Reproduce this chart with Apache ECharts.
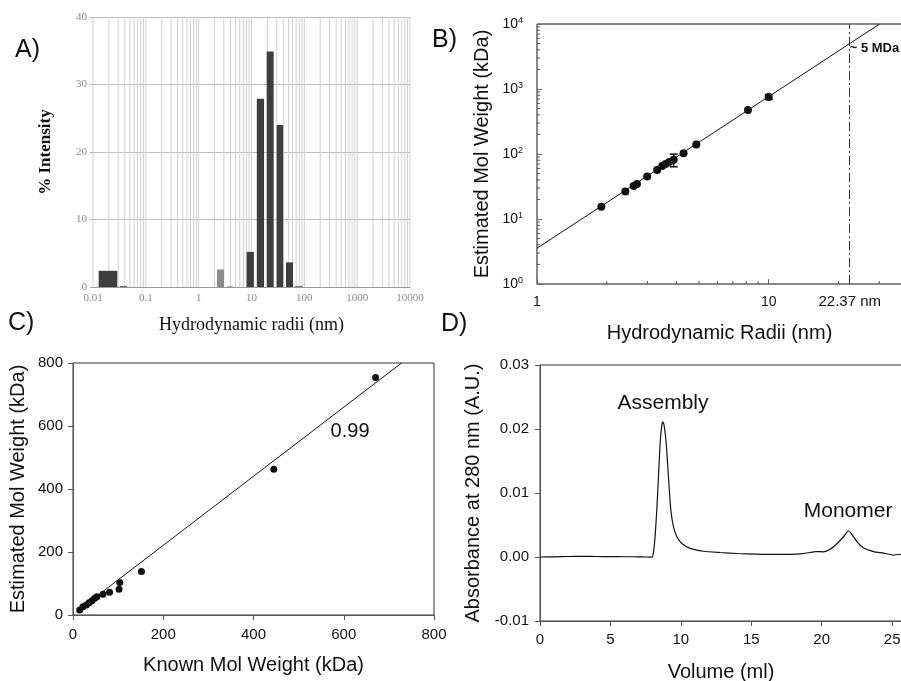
<!DOCTYPE html>
<html>
<head>
<meta charset="utf-8">
<script src="https://cdn.jsdelivr.net/npm/echarts@6/dist/echarts.min.js"></script>
<style>
  html, body { margin: 0; padding: 0; background: #fff; }
  #chart { width: 901px; height: 681px; }
</style>
</head>
<body>
<div id="chart"></div>
<script>
// A) intensity distribution (bins on a log radius axis)
const A_BIN_LO = [0.0128, 0.032, 2.22, 3.4, 8.1, 12.6, 19.4, 30, 45, 66.5];
const A_BIN_HI = [0.0288, 0.044, 3.02, 4.5, 11.1, 17.3, 26.3, 39.8, 61, 93];
const A_INTENSITY = [2.4, 0.12, 2.6, 0.06, 5.2, 27.9, 34.9, 24.0, 3.65, 0.1];

// B) radius vs estimated mol weight, log-log
const B_RADII = [1.895, 2.405, 2.61, 2.70, 2.99, 3.30, 3.47, 3.59, 3.72, 3.89, 4.29, 4.87, 8.14, 10.0];
const B_MW = [15.4, 26.4, 32.3, 34.7, 45, 56.5, 65.1, 69.9, 75, 81.5, 103, 140, 475, 753];
const B_ERR_X = [3.89, 10.0];
const B_ERR_LO = [63.5, 690];
const B_ERR_HI = [99.6, 820];
const B_FIT_X = [1, 30.1];
const B_FIT_Y = [3.55, 10000];
const B_CUT_R = 22.37;
const B_CUT_MW = 5000;

// C) known vs estimated mol weight
const C_KNOWN = [14.9, 22, 29.6, 35.6, 42, 48, 53, 66.5, 81, 102, 103.5, 151.7, 445, 670.6];
const C_EST = [15.9, 26, 31.8, 39, 45, 53, 58, 66, 72, 82, 103, 138, 463, 754];
const C_FIT_X = [8, 728];
const C_FIT_Y = [10.8, 800];

// D) elution profile
const D_VOL = [0, 1, 2, 3, 4, 5, 6, 7, 7.6, 7.94, 8.05, 8.17, 8.29, 8.41, 8.53, 8.65, 8.72, 8.81, 8.96,
  9.12, 9.29, 9.48, 9.71, 10.07, 10.66, 11.6, 12.8, 14, 15.4, 16.5, 17.77, 18.5, 19.2, 19.55, 20.14,
  20.6, 21.09, 21.56, 21.91, 22.15, 22.5, 22.98, 23.69, 24.4, 25.1, 25.7];
const D_ABS = [0.0000, 0.00002, 0.00008, 0.0001, 0.00008, 0.00005, 0.00004, 0.00003, 0.0000, -0.00003,
  0.0006, 0.0032, 0.0073, 0.0125, 0.0178, 0.0206, 0.0211, 0.0206, 0.0178, 0.0125, 0.0073, 0.0047,
  0.0032, 0.0021, 0.00135, 0.0009, 0.0007, 0.00055, 0.00045, 0.0004, 0.00042, 0.0005, 0.0007,
  0.00085, 0.0008, 0.0012, 0.0021, 0.0032, 0.0041, 0.0035, 0.0024, 0.0014, 0.00085, 0.0006,
  0.0003, 0.00045];

const SANS = "'Liberation Sans', Arial, sans-serif";
const SERIF = "'Liberation Serif', 'Times New Roman', serif";
const INK = '#111';

function decadeMinors(fromExp, toExp, withMajor) {
  const out = [];
  for (let e = fromExp; e <= toExp; e++) {
    for (let m = withMajor ? 1 : 2; m <= 9; m++) out.push(+(m * Math.pow(10, e)).toPrecision(3));
  }
  return out;
}

const zip = (a, b) => a.map((v, i) => [v, b[i]]);

// vertical grid lines for A
const aGridX = decadeMinors(-2, 3, true).concat([10000]);
// minor ticks for B
const bMinorX = decadeMinors(0, 1, false).filter((v) => v < 37);
const bMinorY = decadeMinors(0, 3, false);

const chart = echarts.init(document.getElementById('chart'));

const option = {
  animation: false,
  backgroundColor: '#fff',
  textStyle: { fontFamily: SANS },
  grid: [
    { left: 93, top: 17, width: 317, height: 270, outerBoundsMode: 'none' },
    { left: 537, top: 24, right: -1, height: 260, outerBoundsMode: 'none', show: true, borderColor: '#111', borderWidth: 1 },
    { left: 73, top: 363, width: 361, height: 252, outerBoundsMode: 'none', show: true, borderColor: '#333', borderWidth: 1 },
    { left: 540, top: 365, right: -1, height: 256, outerBoundsMode: 'none', show: true, borderColor: '#333', borderWidth: 1 },
  ],
  xAxis: [
    {
      gridIndex: 0, type: 'log', logBase: 10, min: 0.01, max: 10000,
      name: 'Hydrodynamic radii (nm)', nameLocation: 'middle', nameGap: 29,
      nameTextStyle: { fontFamily: SERIF, fontSize: 18, color: INK },
      axisLine: { lineStyle: { color: '#999' } },
      axisTick: { show: false },
      splitLine: { show: false },
      axisLabel: { fontFamily: SERIF, fontSize: 11, color: '#8a8a8a', margin: 6,
        formatter: (v) => String(+(+v).toPrecision(3)) },
    },
    {
      gridIndex: 1, type: 'log', logBase: 10, min: 1, max: 37.6,
      name: 'Hydrodynamic Radii (nm)', nameLocation: 'middle', nameGap: 39,
      nameTextStyle: { fontSize: 20, color: INK },
      axisLine: { lineStyle: { color: '#888' } },
      axisTick: { inside: true, length: 5, lineStyle: { color: '#666' } },
      splitLine: { show: false },
      axisLabel: { fontSize: 14, color: INK, margin: 11,
        formatter: (v) => (Math.abs(v - 1) < 1e-6 ? '1' : Math.abs(v - 10) < 1e-6 ? '10' : '') },
    },
    {
      gridIndex: 2, type: 'value', min: 0, max: 800, interval: 200,
      name: 'Known Mol Weight (kDa)', nameLocation: 'middle', nameGap: 40,
      nameTextStyle: { fontSize: 20, color: INK },
      axisLine: { lineStyle: { color: '#555' } },
      axisTick: { length: 5, lineStyle: { color: '#555' } },
      splitLine: { show: false },
      axisLabel: { fontSize: 15, color: INK, margin: 12 },
    },
    {
      gridIndex: 3, type: 'value', min: 0, max: 25.7, interval: 5,
      name: 'Volume (ml)', nameLocation: 'middle', nameGap: 41,
      nameTextStyle: { fontSize: 20, color: INK },
      axisLine: { onZero: false, lineStyle: { color: '#555' } },
      axisTick: { length: 5, lineStyle: { color: '#555' } },
      splitLine: { show: false },
      axisLabel: { fontSize: 15, color: INK, margin: 11,
        formatter: (v) => (v % 5 === 0 ? String(v) : '') },
    },
  ],
  yAxis: [
    {
      gridIndex: 0, type: 'value', min: 0, max: 40, interval: 10,
      name: '% Intensity', nameLocation: 'middle', nameGap: 39,
      nameTextStyle: { fontFamily: SERIF, fontSize: 17, fontWeight: 'bold', color: INK },
      axisLine: { show: false },
      axisTick: { show: true, length: 3, lineStyle: { color: '#aaa' } },
      splitLine: { lineStyle: { color: '#bdbdbd' } },
      axisLabel: { fontFamily: SERIF, fontSize: 11, color: '#8a8a8a', margin: 6 },
    },
    {
      gridIndex: 1, type: 'log', logBase: 10, min: 1, max: 10000,
      name: 'Estimated Mol Weight (kDa)', nameLocation: 'middle', nameGap: 45,
      nameTextStyle: { fontSize: 20, color: INK },
      axisLine: { lineStyle: { color: '#888' } },
      axisTick: { inside: true, length: 5, lineStyle: { color: '#666' } },
      splitLine: { show: false },
      axisLabel: {
        margin: 14, color: INK,
        formatter: (v) => '{b|10}{s|' + Math.round(Math.log10(v)) + '}',
        rich: {
          b: { fontSize: 14, color: INK, lineHeight: 16 },
          s: { fontSize: 9, color: INK, verticalAlign: 'top', lineHeight: 10 },
        },
      },
    },
    {
      gridIndex: 2, type: 'value', min: 0, max: 800, interval: 200,
      name: 'Estimated Mol Weight (kDa)', nameLocation: 'middle', nameGap: 45,
      nameTextStyle: { fontSize: 20, color: INK },
      axisLine: { lineStyle: { color: '#555' } },
      axisTick: { length: 5, lineStyle: { color: '#555' } },
      splitLine: { show: false },
      axisLabel: { fontSize: 15, color: INK, margin: 10 },
    },
    {
      gridIndex: 3, type: 'value', min: -0.01, max: 0.03, interval: 0.01,
      name: 'Absorbance at 280 nm (A.U.)', nameLocation: 'middle', nameGap: 57,
      nameTextStyle: { fontSize: 20, color: INK },
      axisLine: { lineStyle: { color: '#555' } },
      axisTick: { length: 5, lineStyle: { color: '#555' } },
      splitLine: { show: false },
      axisLabel: { fontSize: 15, color: INK, margin: 11, formatter: (v) => (+v).toFixed(2) },
    },
  ],
  series: [
    // A: vertical log grid
    {
      type: 'custom', xAxisIndex: 0, yAxisIndex: 0, silent: true, z: 1,
      data: aGridX.map((v) => [v, 0]),
      renderItem: function (params, api) {
        const v = api.value(0);
        const p0 = api.coord([v, 0]);
        const p1 = api.coord([v, 40]);
        return { type: 'line', shape: { x1: p0[0], y1: p0[1], x2: p1[0], y2: p1[1] },
          style: { stroke: '#cfcfcf', lineWidth: 1 } };
      },
    },
    // A: bars
    {
      type: 'custom', xAxisIndex: 0, yAxisIndex: 0, z: 3,
      data: A_INTENSITY.map((v, i) => [A_BIN_LO[i], A_BIN_HI[i], v]),
      encode: { x: [0, 1], y: 2 },
      renderItem: function (params, api) {
        const p0 = api.coord([api.value(0), 0]);
        const p1 = api.coord([api.value(1), api.value(2)]);
        const light = params.dataIndex === 2;
        return { type: 'rect',
          shape: { x: p0[0], y: p1[1], width: p1[0] - p0[0], height: p0[1] - p1[1] },
          style: { fill: light ? '#8c8c8c' : '#3e3e3e' } };
      },
    },
    // B: minor ticks on x
    {
      type: 'custom', xAxisIndex: 1, yAxisIndex: 1, silent: true,
      data: bMinorX.map((v) => [v, 1]),
      renderItem: function (params, api) {
        const p = api.coord([api.value(0), api.value(1)]);
        return { type: 'line', shape: { x1: p[0], y1: p[1], x2: p[0], y2: p[1] - 3 },
          style: { stroke: '#555', lineWidth: 1 } };
      },
    },
    // B: minor ticks on y
    {
      type: 'custom', xAxisIndex: 1, yAxisIndex: 1, silent: true,
      data: bMinorY.map((v) => [1, v]),
      renderItem: function (params, api) {
        const p = api.coord([api.value(0), api.value(1)]);
        return { type: 'line', shape: { x1: p[0], y1: p[1], x2: p[0] + 3, y2: p[1] },
          style: { stroke: '#555', lineWidth: 1 } };
      },
    },
    // B: fit line + cutoff
    {
      type: 'line', xAxisIndex: 1, yAxisIndex: 1, symbol: 'none',
      data: zip(B_FIT_X, B_FIT_Y),
      lineStyle: { color: INK, width: 1 },
      markLine: {
        silent: true, symbol: 'none',
        lineStyle: { color: '#333', width: 1, type: [9, 3, 2, 3] },
        label: { show: true, position: 'start', distance: 10, formatter: B_CUT_R + ' nm',
          color: INK, fontSize: 15, fontFamily: SANS },
        data: [{ xAxis: B_CUT_R }],
      },
      markPoint: {
        symbol: 'circle', symbolSize: 0, silent: true,
        label: { show: true, position: 'right', distance: 0, offset: [0, 5], formatter: '~ 5 MDa',
          color: INK, fontSize: 13, fontWeight: 'bold', fontFamily: SANS },
        data: [{ coord: [B_CUT_R, B_CUT_MW] }],
      },
    },
    // B: error bars
    {
      type: 'custom', xAxisIndex: 1, yAxisIndex: 1, z: 4,
      data: B_ERR_X.map((x, i) => [x, B_ERR_LO[i], B_ERR_HI[i]]),
      renderItem: function (params, api) {
        const lo = api.coord([api.value(0), api.value(1)]);
        const hi = api.coord([api.value(0), api.value(2)]);
        const st = { stroke: INK, lineWidth: 1.5 };
        return { type: 'group', children: [
          { type: 'line', shape: { x1: lo[0], y1: lo[1], x2: hi[0], y2: hi[1] }, style: st },
          { type: 'line', shape: { x1: lo[0] - 4, y1: lo[1], x2: lo[0] + 4, y2: lo[1] }, style: st },
          { type: 'line', shape: { x1: hi[0] - 4, y1: hi[1], x2: hi[0] + 4, y2: hi[1] }, style: st },
        ] };
      },
    },
    // B: points
    {
      type: 'scatter', xAxisIndex: 1, yAxisIndex: 1, symbolSize: 8, z: 5,
      itemStyle: { color: INK, opacity: 1 },
      data: zip(B_RADII, B_MW),
    },
    // C: fit line
    {
      type: 'line', xAxisIndex: 2, yAxisIndex: 2, symbol: 'none',
      data: zip(C_FIT_X, C_FIT_Y),
      lineStyle: { color: INK, width: 1 },
      markPoint: {
        symbol: 'circle', symbolSize: 0, silent: true,
        label: { show: true, position: 'inside', formatter: '0.99', color: INK, fontSize: 20, fontFamily: SANS },
        data: [{ coord: [614, 583] }],
      },
    },
    // C: points
    {
      type: 'scatter', xAxisIndex: 2, yAxisIndex: 2, symbolSize: 7, z: 5,
      itemStyle: { color: INK, opacity: 1 },
      data: zip(C_KNOWN, C_EST),
    },
    // D: trace
    {
      type: 'line', xAxisIndex: 3, yAxisIndex: 3, symbol: 'none', smooth: 0.2,
      data: zip(D_VOL, D_ABS),
      lineStyle: { color: INK, width: 1.2 },
      markPoint: {
        symbol: 'circle', symbolSize: 0, silent: true,
        label: { show: true, position: 'inside', color: INK, fontSize: 21, fontFamily: SANS,
          formatter: (p) => p.name },
        data: [
          { name: 'Assembly', coord: [8.73, 0.0240] },
          { name: 'Monomer', coord: [21.87, 0.0071] },
        ],
      },
    },
  ],
  graphic: [
    { type: 'text', left: 15, top: 38, style: { text: 'A)', fontSize: 25, fill: INK, fontFamily: SANS } },
    { type: 'text', left: 432, top: 28, style: { text: 'B)', fontSize: 25, fill: INK, fontFamily: SANS } },
    { type: 'text', left: 8, top: 311, style: { text: 'C)', fontSize: 25, fill: INK, fontFamily: SANS } },
    { type: 'text', left: 441, top: 312, style: { text: 'D)', fontSize: 25, fill: INK, fontFamily: SANS } },
  ],
};

chart.setOption(option);
</script>
</body>
</html>
